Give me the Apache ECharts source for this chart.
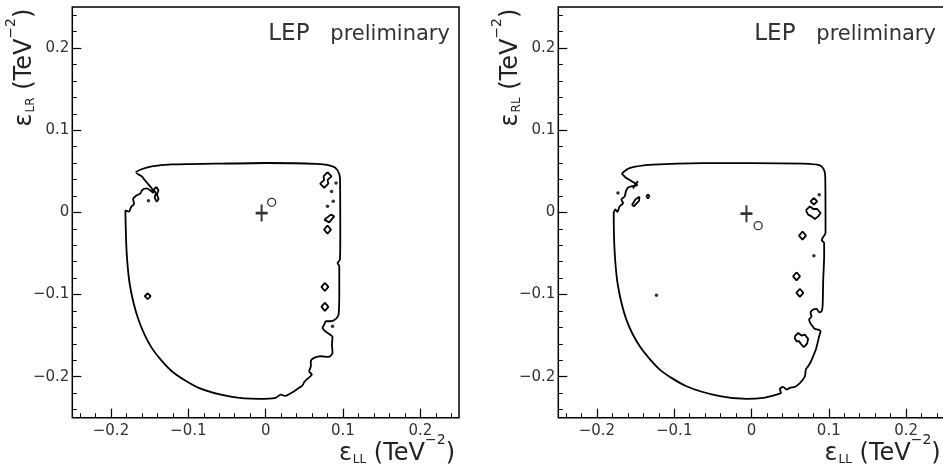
<!DOCTYPE html>
<html><head><meta charset="utf-8">
<script src="https://cdn.jsdelivr.net/npm/echarts@6/dist/echarts.min.js"></script>
<style>html,body{margin:0;padding:0;background:#fff}#c{width:943px;height:466px}</style>
</head><body><div id="c"></div><script>
// ---------- tick values ----------
const xTickLabels = [-0.2, -0.1, 0, 0.1, 0.2];
const yTickLabels = [-0.2, -0.1, 0, 0.1, 0.2];
const minorTicks = [-0.24, -0.22, -0.18, -0.16, -0.14, -0.12, -0.08, -0.06, -0.04, -0.02,
                    0.02, 0.04, 0.06, 0.08, 0.12, 0.14, 0.16, 0.18, 0.22, 0.24];

// ---------- left panel (eps_LL vs eps_LR) ----------
const lrOutline = [
  [-0.168, 0.0487], [-0.1623, 0.0519], [-0.1472, 0.056], [-0.1212, 0.0584], [-0.065, 0.0592],
  [0.000, 0.0601], [0.065, 0.0589], [0.0865, 0.056], [0.093, 0.0511], [0.0961, 0.0418],
  [0.0965, -0.025], [0.0961, -0.0575], [0.093, -0.0616], [0.0952, -0.0657], [0.0952, -0.098],
  [0.0943, -0.1245], [0.0909, -0.1297], [0.0844, -0.1326], [0.0779, -0.1326], [0.0757, -0.1366],
  [0.0735, -0.1406], [0.077, -0.1448], [0.0831, -0.1488], [0.0865, -0.1516], [0.0857, -0.161],
  [0.0865, -0.171], [0.0813, -0.176], [0.0714, -0.1752], [0.0627, -0.1771], [0.0584, -0.1813],
  [0.0584, -0.1873], [0.0562, -0.1934], [0.0597, -0.1975], [0.054, -0.2027], [0.0497, -0.2068],
  [0.0476, -0.2108], [0.0432, -0.2136], [0.0368, -0.2178], [0.0303, -0.2215], [0.025, -0.2235],
  [0.0195, -0.2218], [0.013, -0.2258], [-0.0087, -0.227], [-0.0434, -0.2246], [-0.0866, -0.2136],
  [-0.1213, -0.1934], [-0.1473, -0.165], [-0.1645, -0.1305], [-0.1753, -0.090], [-0.1797, -0.0494],
  [-0.1814, 0.0024], [-0.1766, 0.0008], [-0.174, 0.0065], [-0.1701, 0.0105], [-0.1714, 0.0162],
  [-0.1675, 0.0203], [-0.1623, 0.0227], [-0.1593, 0.0276], [-0.1537, 0.0292], [-0.1494, 0.0268],
  [-0.145, 0.0235], [-0.1472, 0.0292], [-0.1524, 0.0349], [-0.1567, 0.0397], [-0.1602, 0.0438],
  [-0.1645, 0.0462], [-0.168, 0.0487]
];
const lrIslandCross = [[-0.1415, 0.031], [-0.1385, 0.027], [-0.1405, 0.022], [-0.1385, 0.016], [-0.141, 0.013],
  [-0.1435, 0.018], [-0.142, 0.023], [-0.1445, 0.028], [-0.1415, 0.031]];
const lrIslandEight = [[0.080, 0.049], [0.0852, 0.0438], [0.080, 0.0395], [0.081, 0.0349], [0.0757, 0.0299],
  [0.0705, 0.0349], [0.0757, 0.0395], [0.0748, 0.0438], [0.080, 0.049]];
const lrIslandTri = [[0.0757, -0.0089], [0.0844, -0.0028], [0.0887, -0.0049], [0.0822, -0.0122], [0.0757, -0.0089]];
const lrIslandD1 = [[0.080, -0.016], [0.0845, -0.021], [0.080, -0.026], [0.0755, -0.021], [0.080, -0.016]];
const lrIslandD2 = [[0.0766, -0.0858], [0.0811, -0.0908], [0.0766, -0.0958], [0.0721, -0.0908], [0.0766, -0.0858]];
const lrIslandD3 = [[0.0766, -0.110], [0.0811, -0.115], [0.0766, -0.120], [0.0721, -0.115], [0.0766, -0.110]];
const lrIslandD4 = [[-0.1525, -0.0985], [-0.1487, -0.102], [-0.1525, -0.1058], [-0.1563, -0.102], [-0.1525, -0.0985]];
const lrDots = [[-0.1516, 0.0142], [0.091, 0.0358], [0.0852, 0.0255], [0.0874, 0.0134], [0.080, 0.0073], [0.0865, -0.1387]];
const lrBest = [[-0.0052, -0.0008]];
const lrSM = [[0.0078, 0.0122]];

// ---------- right panel (eps_LL vs eps_RL) ----------
const rlOutline = [
  [-0.168, 0.047], [-0.158, 0.0539], [-0.1274, 0.058], [-0.0626, 0.060], [0.000, 0.060],
  [0.0669, 0.0592], [0.0885, 0.0572], [0.0937, 0.0519], [0.0954, 0.0438], [0.0958, -0.025],
  [0.092, -0.0312], [0.091, -0.034], [0.094, -0.0373], [0.094, -0.0535], [0.0928, -0.0819],
  [0.092, -0.1143], [0.0907, -0.1204], [0.0876, -0.1216], [0.0842, -0.1176], [0.0798, -0.1184],
  [0.0764, -0.1224], [0.0777, -0.1265], [0.0746, -0.1305], [0.0764, -0.1354], [0.0798, -0.1395],
  [0.082, -0.1419], [0.0863, -0.1427], [0.0894, -0.1448], [0.0876, -0.1509], [0.0855, -0.1589],
  [0.0833, -0.167], [0.0798, -0.1752], [0.0764, -0.1825], [0.0733, -0.1873], [0.0703, -0.1914],
  [0.0691, -0.1995], [0.0648, -0.2056], [0.0604, -0.2097], [0.0561, -0.2125], [0.0497, -0.2137],
  [0.0453, -0.2157], [0.041, -0.2125], [0.0367, -0.215], [0.038, -0.2198], [0.0324, -0.2218],
  [0.0151, -0.2259], [-0.0065, -0.2271], [-0.041, -0.2238], [-0.0842, -0.2117], [-0.1187, -0.1914],
  [-0.1446, -0.163], [-0.1619, -0.1306], [-0.1727, -0.090], [-0.177, -0.0495], [-0.1783, -0.0008],
  [-0.176, 0.0035], [-0.1735, 0.0005], [-0.1706, 0.0073], [-0.1662, 0.0114], [-0.1684, 0.0154],
  [-0.1641, 0.0195], [-0.1625, 0.0255], [-0.160, 0.030], [-0.154, 0.032], [-0.148, 0.033],
  [-0.150, 0.035], [-0.156, 0.0385], [-0.163, 0.0425], [-0.168, 0.047]
];
const rlIslandCross = [[-0.1534, 0.029], [-0.1505, 0.0335], [-0.1469, 0.038]];
const rlIslandLong = [[-0.1547, 0.009], [-0.150, 0.016], [-0.145, 0.019], [-0.1455, 0.014], [-0.152, 0.0075], [-0.1547, 0.009]];
const rlIslandSmall = [[-0.134, 0.022], [-0.132, 0.0195], [-0.134, 0.017], [-0.136, 0.0195], [-0.134, 0.022]];
const rlIslandD0 = [[0.0807, 0.0175], [0.085, 0.0134], [0.0807, 0.0093], [0.0764, 0.0134], [0.0807, 0.0175]];
const rlIslandBlob = [[0.0703, 0.0024], [0.0755, 0.0073], [0.0798, 0.0041], [0.085, 0.0041], [0.0894, -0.0008],
  [0.0863, -0.0049], [0.082, -0.008], [0.0777, -0.0049], [0.0733, -0.0028], [0.0703, 0.0024]];
const rlIslandD1 = [[0.066, -0.0233], [0.0705, -0.0283], [0.066, -0.0333], [0.0615, -0.0283], [0.066, -0.0233]];
const rlIslandD2 = [[0.0583, -0.0729], [0.0628, -0.0779], [0.0583, -0.0829], [0.0538, -0.0779], [0.0583, -0.0729]];
const rlIslandD3 = [[0.0626, -0.093], [0.0671, -0.098], [0.0626, -0.103], [0.0581, -0.098], [0.0626, -0.093]];
const rlIslandBlob2 = [[0.0561, -0.1509], [0.0604, -0.1468], [0.0648, -0.150], [0.069, -0.1488], [0.0733, -0.154],
  [0.072, -0.1597], [0.0677, -0.1642], [0.0635, -0.1597], [0.0617, -0.1569], [0.0583, -0.1569], [0.0561, -0.1537], [0.0561, -0.1509]];
const rlDots = [[-0.1728, 0.0236], [-0.123, -0.101], [0.0876, 0.0215], [0.0807, -0.0527]];
const rlBest = [[-0.0065, -0.0016]];
const rlSM = [[0.0086, -0.0162]];

// ---------- build chart ----------
const FONT = 'DejaVu Sans';
const frames = [
  { left: 72.3, top: 7, width: 386.7, height: 410.7 },
  { left: 558.3, top: 7, width: 386.4, height: 410.7 }
];
const fmt = v => v === 0 ? '0' : (v < 0 ? '\u2212' + (-v) : String(v));

function axesFor(gi, dim) {
  const labels = dim === 'x' ? xTickLabels : yTickLabels;
  const pos = dim === 'x' ? 'bottom' : 'left';
  const main = {
    type: 'value', gridIndex: gi, min: -0.25, max: 0.25, position: pos,
    axisLine: { show: false, onZero: false }, splitLine: { show: false },
    axisTick: { show: true, inside: true, length: 9, customValues: labels, lineStyle: { color: '#000', width: 1.2 } },
    axisLabel: { show: true, customValues: labels, margin: dim === 'x' ? 6 : 3, formatter: fmt,
      fontFamily: FONT, fontSize: 15, color: '#333' }
  };
  const minor = {
    type: 'value', gridIndex: gi, min: -0.25, max: 0.25, position: pos,
    axisLine: { show: false, onZero: false }, splitLine: { show: false },
    axisTick: { show: true, inside: true, length: 4.5, customValues: minorTicks, lineStyle: { color: '#000', width: 1 } },
    axisLabel: { show: false }
  };
  return [main, minor];
}

function contour(data, gi, smooth) {
  return { type: 'line', xAxisIndex: gi * 2, yAxisIndex: gi * 2, data: data, showSymbol: false, symbol: 'none',
    smooth: smooth, lineStyle: { color: '#000', width: 1.8 }, silent: true, animation: false, z: 3 };
}
function dots(data, gi) {
  return { type: 'scatter', xAxisIndex: gi * 2, yAxisIndex: gi * 2, data: data, symbol: 'circle', symbolSize: 3.5,
    itemStyle: { color: '#000' }, silent: true, animation: false, z: 4 };
}
function best(data, gi) {
  return { type: 'scatter', xAxisIndex: gi * 2, yAxisIndex: gi * 2, data: data,
    symbol: 'path://M6,0 L6,17 M0,8.5 L12,8.5', symbolSize: [12, 17],
    itemStyle: { color: 'transparent', borderColor: '#000', borderWidth: 2.3 }, silent: true, animation: false, z: 5 };
}
function sm(data, gi) {
  return { type: 'scatter', xAxisIndex: gi * 2, yAxisIndex: gi * 2, data: data, symbol: 'circle', symbolSize: 8,
    itemStyle: { color: 'transparent', borderColor: '#000', borderWidth: 1.3 }, silent: true, animation: false, z: 5 };
}

const series = [
  contour(lrOutline, 0, 0.25),
  contour(lrIslandCross, 0, 0), contour(lrIslandEight, 0, 0), contour(lrIslandTri, 0, 0),
  contour(lrIslandD1, 0, 0), contour(lrIslandD2, 0, 0), contour(lrIslandD3, 0, 0), contour(lrIslandD4, 0, 0),
  dots(lrDots, 0), best(lrBest, 0), sm(lrSM, 0),
  contour(rlOutline, 1, 0.25),
  contour(rlIslandCross, 1, 0), contour(rlIslandLong, 1, 0), contour(rlIslandSmall, 1, 0),
  contour(rlIslandD0, 1, 0), contour(rlIslandBlob, 1, 0), contour(rlIslandD1, 1, 0), contour(rlIslandD2, 1, 0),
  contour(rlIslandD3, 1, 0), contour(rlIslandBlob2, 1, 0),
  dots(rlDots, 1), best(rlBest, 1), sm(rlSM, 1)
];

const richTitle = {
  e: { fontFamily: FONT, fontSize: 24, lineHeight: 40, verticalAlign: 'middle', color: '#222' },
  p: { fontFamily: FONT, fontSize: 24, lineHeight: 40, verticalAlign: 'middle', color: '#222' },
  s: { fontFamily: FONT, fontSize: 12, verticalAlign: 'middle', padding: [12, 0, 0, 1], color: '#222' },
  u: { fontFamily: FONT, fontSize: 14, lineHeight: 17, verticalAlign: 'top', color: '#222' }
};
const xTitle = '{e|\u03b5}{s|LL}{p| (TeV}{u|\u22122}{p|)}';
const yTitles = ['{e|\u03b5}{s|LR}{p| (TeV}{u|\u22122}{p|)}', '{e|\u03b5}{s|RL}{p| (TeV}{u|\u22122}{p|)}'];

const graphic = [];
frames.forEach((f, i) => {
  graphic.push({ type: 'text', x: f.left + 196, y: 34, z: 10, silent: true,
    style: { text: 'LEP', fontFamily: FONT, fontSize: 23, fill: '#333', align: 'left', verticalAlign: 'middle',
      textAlign: 'left', textVerticalAlign: 'middle' } });
  graphic.push({ type: 'text', x: f.left + 258, y: 34.5, z: 10, silent: true,
    style: { text: 'preliminary', fontFamily: FONT, fontSize: 21, fill: '#333', align: 'left', verticalAlign: 'middle',
      textAlign: 'left', textVerticalAlign: 'middle' } });
  graphic.push({ type: 'text', x: f.left + f.width - 4, y: 453.5, z: 10, silent: true,
    style: { text: xTitle, rich: richTitle, fill: '#222', align: 'right', verticalAlign: 'middle',
      textAlign: 'right', textVerticalAlign: 'middle' } });
  graphic.push({ type: 'text', x: f.left - 47.6, y: 67.5, rotation: Math.PI / 2, z: 10, silent: true,
    style: { text: yTitles[i], rich: richTitle, fill: '#222', align: 'center', verticalAlign: 'middle',
      textAlign: 'center', textVerticalAlign: 'middle' } });
});

const chart = echarts.init(document.getElementById('c'), null, { renderer: 'canvas' });
chart.setOption({
  animation: false,
  backgroundColor: '#fff',
  grid: frames.map(f => Object.assign({}, f, { show: true, borderColor: '#000', borderWidth: 1.5,
    backgroundColor: 'transparent', containLabel: false, outerBoundsMode: 'none' })),
  xAxis: [...axesFor(0, 'x'), ...axesFor(1, 'x')],
  yAxis: [...axesFor(0, 'y'), ...axesFor(1, 'y')],
  series: series,
  graphic: graphic
});
</script></body></html>
